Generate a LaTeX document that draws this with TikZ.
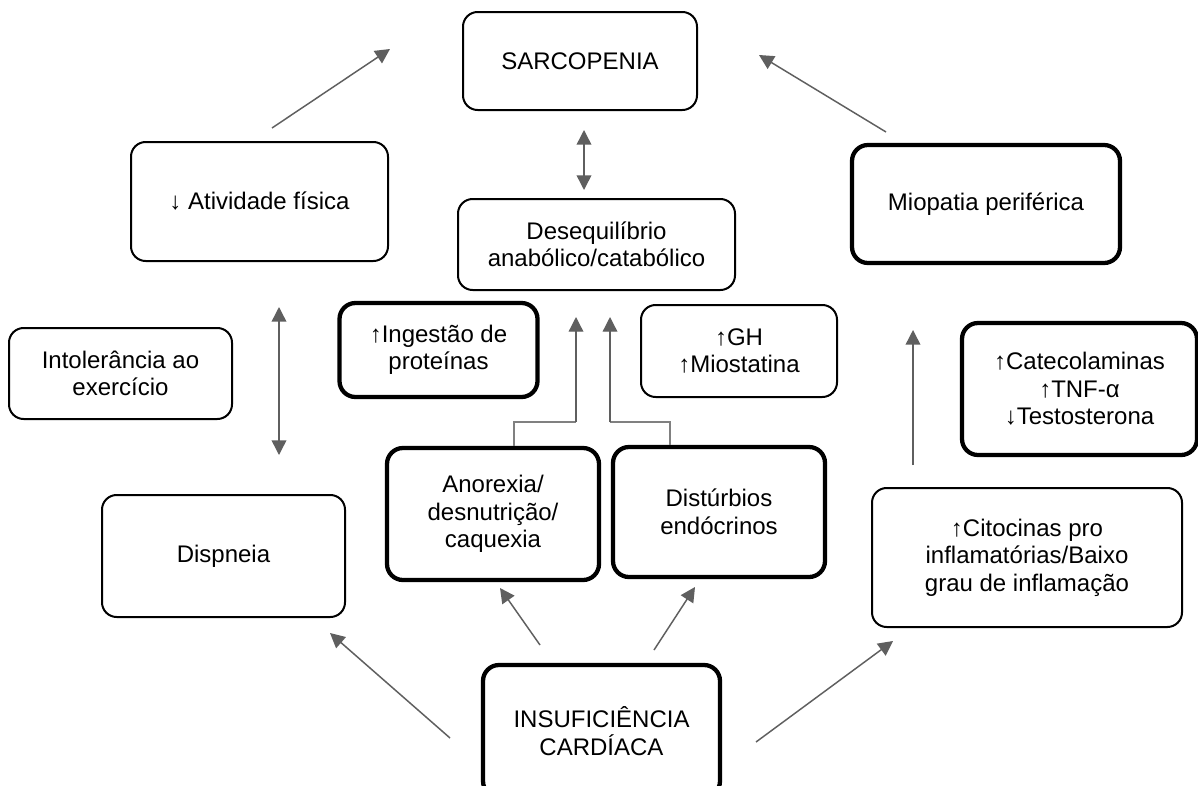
\documentclass[tikz,border=0pt]{standalone}
\usepackage{fontspec}
\setmainfont{Liberation Sans}
\usetikzlibrary{arrows.meta}
\definecolor{arrgray}{HTML}{5F5F5F}
\definecolor{elbgray}{HTML}{808080}
\begin{document}
\begin{tikzpicture}[x=0.75pt,y=-0.75pt,
  every node/.style={font=\fontsize{18}{20.6}\selectfont, align=center, inner sep=0pt},
  thinbox/.style={draw=black, line width=1.5pt, rounded corners=11pt, fill=white},
  thickbox/.style={draw=black, line width=3.2pt, rounded corners=12pt, fill=white},
  arr/.style={draw=arrgray, line width=1.1pt, -{Triangle[length=11pt,width=11pt]}},
  darr/.style={draw=arrgray, line width=1.1pt, {Triangle[length=11pt,width=11pt]}-{Triangle[length=11pt,width=11pt]}},
  elb/.style={draw=elbgray, line width=0.8pt},
  elbarr/.style={draw=arrgray, line width=1pt, -{Triangle[length=11pt,width=11pt]}}]
\clip (0,0) rectangle (1198,785);
\fill[white] (0,0) rectangle (1198,785);

% boxes
\node[thinbox, minimum width=234*0.75pt, minimum height=98*0.75pt] (sarc) at (580,61) {SARCOPENIA};
\node[thinbox, minimum width=277*0.75pt, minimum height=91*0.75pt] (deseq) at (596.5,244.5) {Desequilíbrio\\anabólico/catabólico};
\node[thinbox, minimum width=257*0.75pt, minimum height=119*0.75pt] (ativ) at (259.5,201.5) {↓ Atividade física};
\node[thinbox, minimum width=223*0.75pt, minimum height=91*0.75pt] (intol) at (120.5,373.5) {Intolerância ao\\exercício};
\node[thinbox, minimum width=243*0.75pt, minimum height=122*0.75pt] (disp) at (223.5,556) {Dispneia};
\node[thickbox, minimum width=198*0.75pt, minimum height=94*0.75pt] (ingest) at (438.5,350) {↑Ingestão de\\proteínas};
\node[thinbox, minimum width=196*0.75pt, minimum height=92*0.75pt] (gh) at (739,351) {↑GH\\↑Miostatina};
\node[thickbox, minimum width=212*0.75pt, minimum height=132*0.75pt] (anor) at (493,514) {Anorexia/\\desnutrição/\\caquexia};
\node[thickbox, minimum width=212*0.75pt, minimum height=130*0.75pt] (dist) at (719,512) {Distúrbios\\endócrinos};
\node[thickbox, minimum width=268*0.75pt, minimum height=118*0.75pt] (miop) at (986,204) {Miopatia periférica};
\node[thickbox, minimum width=235*0.75pt, minimum height=132*0.75pt] (cate) at (1079.5,389) {↑Catecolaminas\\↑TNF-α\\↓Testosterona};
\node[thinbox, minimum width=310*0.75pt, minimum height=139*0.75pt] (cito) at (1027,557.5) {↑Citocinas pro\\inflamatórias/Baixo\\grau de inflamação};
\node[thickbox, minimum width=237*0.75pt, minimum height=132*0.75pt] (ic) at (601.5,731) {INSUFICIÊNCIA\\CARDÍACA};

% connector end points
\coordinate (a1s) at (272,128);  \coordinate (a1e) at (390,49);
\coordinate (a2s) at (886,132);  \coordinate (a2e) at (759,55);
\coordinate (a3s) at (584,130);  \coordinate (a3e) at (584,190);
\coordinate (a4s) at (279,307);  \coordinate (a4e) at (279,455);
\coordinate (e1a) at (514,422);  \coordinate (e1b) at (576,422); \coordinate (e1t) at (576,317);
\coordinate (e2a) at (670,422);  \coordinate (e2b) at (610,422); \coordinate (e2t) at (610,317);
\coordinate (a7s) at (913,465);  \coordinate (a7e) at (913,330);
\coordinate (a8s) at (540,645);  \coordinate (a8e) at (500,588);
\coordinate (a9s) at (654,650);  \coordinate (a9e) at (695,587);
\coordinate (a10s) at (450,738); \coordinate (a10e) at (330,633);
\coordinate (a11s) at (756,742); \coordinate (a11e) at (893,641);

% connectors
\draw[arr] (a1s) -- (a1e);
\draw[arr] (a2s) -- (a2e);
\draw[darr] (a3s) -- (a3e);
\draw[darr] (a4s) -- (a4e);
\draw[elb] (anor.north -| e1a) -- (e1a) -- (e1b);
\draw[elbarr] (e1b) -- (e1t);
\draw[elb] (dist.north -| e2a) -- (e2a) -- (e2b);
\draw[elbarr] (e2b) -- (e2t);
\draw[arr] (a7s) -- (a7e);
\draw[arr] (a8s) -- (a8e);
\draw[arr] (a9s) -- (a9e);
\draw[arr] (a10s) -- (a10e);
\draw[arr] (a11s) -- (a11e);
\end{tikzpicture}
\end{document}
